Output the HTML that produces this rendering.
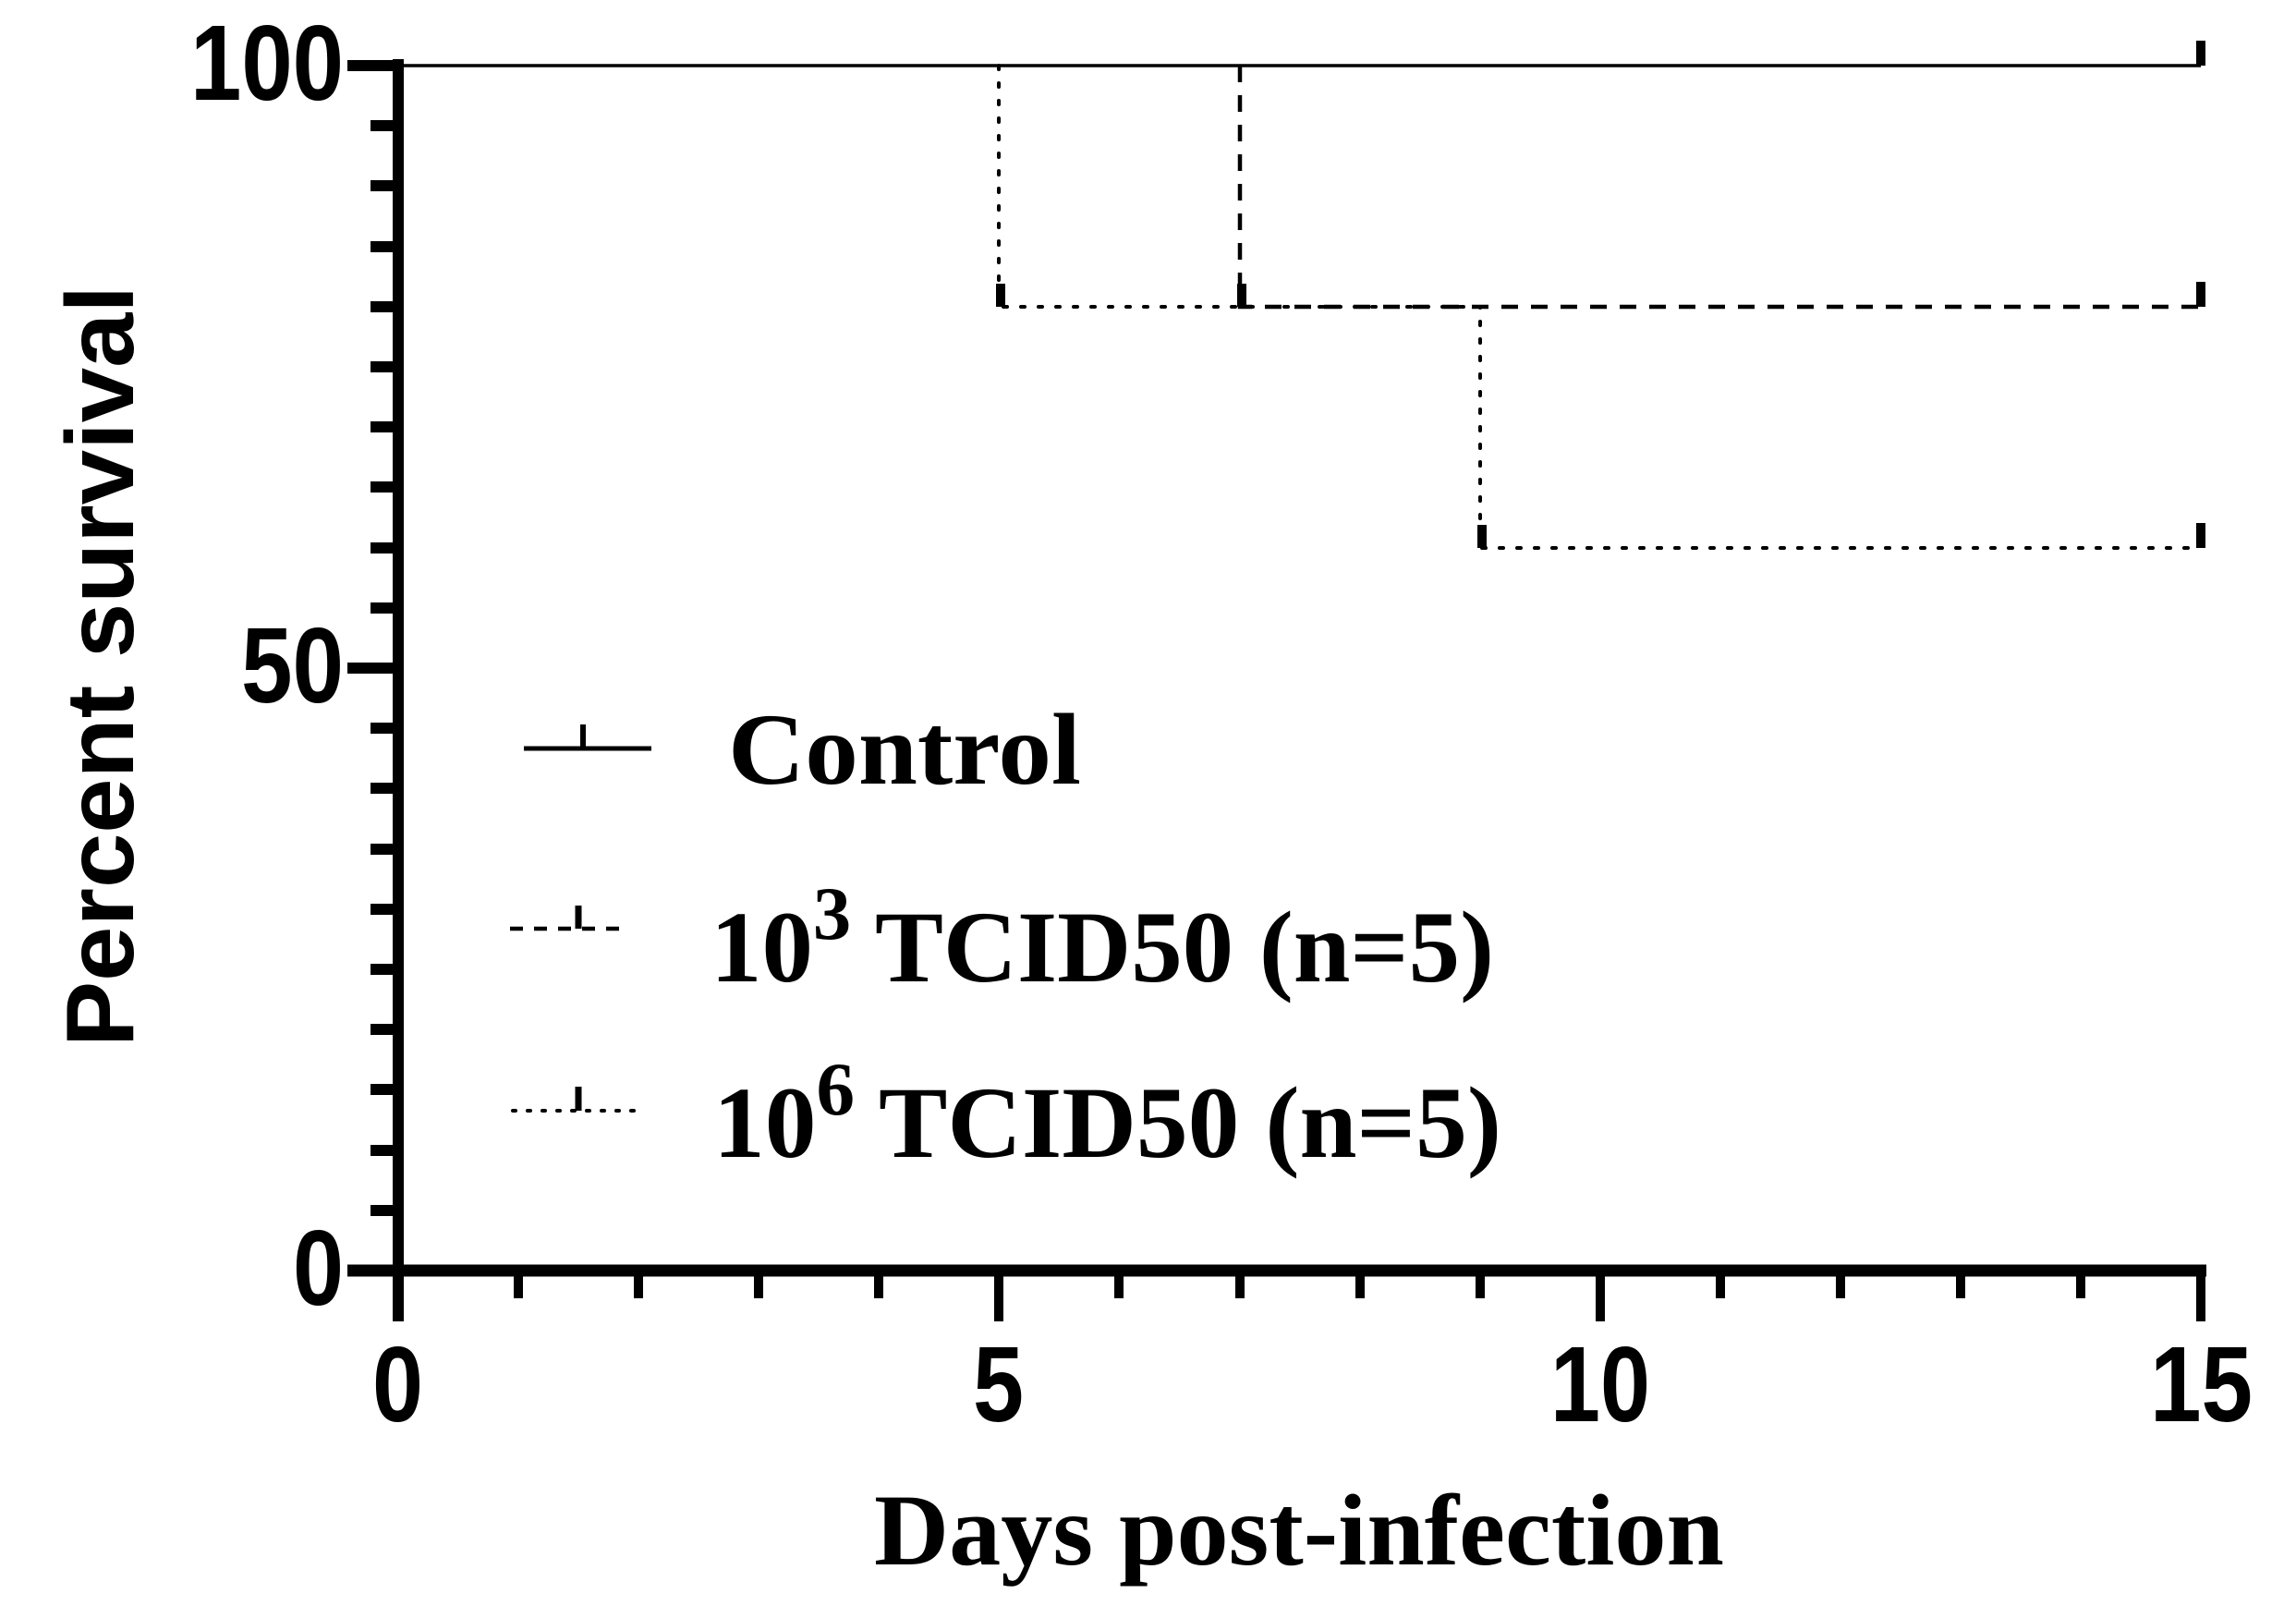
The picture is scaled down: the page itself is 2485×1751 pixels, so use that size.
<!DOCTYPE html>
<html><head><style>html,body{margin:0;padding:0;background:#fff}svg{display:block}</style></head>
<body>
<svg width="2485" height="1751" viewBox="0 0 2485 1751" xmlns="http://www.w3.org/2000/svg">
<g stroke="#000" fill="none">
<line x1="431" y1="64" x2="431" y2="1430" stroke-width="12"/>
<line x1="376" y1="1375" x2="2388" y2="1375" stroke-width="13"/>
<g stroke-width="12">
<line x1="376" y1="71" x2="431" y2="71"/>
<line x1="376" y1="723" x2="431" y2="723"/>
<line x1="376" y1="1375" x2="431" y2="1375"/>
</g>
<g stroke-width="12">
<line x1="401" y1="136" x2="431" y2="136"/><line x1="401" y1="201" x2="431" y2="201"/><line x1="401" y1="267" x2="431" y2="267"/>
<line x1="401" y1="332" x2="431" y2="332"/><line x1="401" y1="397" x2="431" y2="397"/><line x1="401" y1="462" x2="431" y2="462"/>
<line x1="401" y1="527" x2="431" y2="527"/><line x1="401" y1="593" x2="431" y2="593"/><line x1="401" y1="658" x2="431" y2="658"/>
<line x1="401" y1="788" x2="431" y2="788"/><line x1="401" y1="853" x2="431" y2="853"/><line x1="401" y1="919" x2="431" y2="919"/>
<line x1="401" y1="984" x2="431" y2="984"/><line x1="401" y1="1049" x2="431" y2="1049"/><line x1="401" y1="1114" x2="431" y2="1114"/>
<line x1="401" y1="1179" x2="431" y2="1179"/><line x1="401" y1="1245" x2="431" y2="1245"/><line x1="401" y1="1310" x2="431" y2="1310"/>
</g>
<g stroke-width="10">
<line x1="1081" y1="1375" x2="1081" y2="1430"/><line x1="1732" y1="1375" x2="1732" y2="1430"/><line x1="2382" y1="1375" x2="2382" y2="1430"/>
<line x1="561" y1="1375" x2="561" y2="1405"/><line x1="691" y1="1375" x2="691" y2="1405"/><line x1="821" y1="1375" x2="821" y2="1405"/><line x1="951" y1="1375" x2="951" y2="1405"/>
<line x1="1211" y1="1375" x2="1211" y2="1405"/><line x1="1342" y1="1375" x2="1342" y2="1405"/><line x1="1472" y1="1375" x2="1472" y2="1405"/><line x1="1602" y1="1375" x2="1602" y2="1405"/>
<line x1="1862" y1="1375" x2="1862" y2="1405"/><line x1="1992" y1="1375" x2="1992" y2="1405"/><line x1="2122" y1="1375" x2="2122" y2="1405"/><line x1="2252" y1="1375" x2="2252" y2="1405"/>
</g>
<polyline points="431,71 2382,71" stroke-width="3.5"/>
<polyline points="1081,71 1081,332 1602,332 1602,593 2382,593" stroke-width="4" stroke-dasharray="4 15" stroke-linecap="round"/>
<polyline points="1342,71 1342,332 2382,332" stroke-width="4.5" stroke-dasharray="18 14"/>
<g stroke-width="10">
<line x1="2382" y1="44" x2="2382" y2="71"/>
<line x1="2382" y1="305" x2="2382" y2="332"/>
<line x1="2382" y1="566" x2="2382" y2="593"/>
<line x1="1083" y1="307" x2="1083" y2="332"/>
<line x1="1344" y1="307" x2="1344" y2="332"/>
<line x1="1604" y1="568" x2="1604" y2="593"/>
</g>
<line x1="567" y1="810" x2="705" y2="810" stroke-width="5"/>
<line x1="631" y1="784" x2="631" y2="810" stroke-width="6"/>
<line x1="552" y1="1005" x2="677" y2="1005" stroke-width="4.5" stroke-dasharray="14 12"/>
<line x1="626" y1="980" x2="626" y2="1005" stroke-width="7"/>
<line x1="555" y1="1202" x2="693" y2="1202" stroke-width="4" stroke-dasharray="3 13" stroke-linecap="round"/>
<line x1="626" y1="1176" x2="626" y2="1202" stroke-width="7"/>
</g>
<g fill="#000" font-family="'Liberation Sans',Arial,sans-serif" font-weight="bold" font-size="116">
<text x="372" y="108" text-anchor="end" textLength="166" lengthAdjust="spacingAndGlyphs">100</text>
<text x="372" y="760" text-anchor="end" textLength="111" lengthAdjust="spacingAndGlyphs">50</text>
<text x="372" y="1412" text-anchor="end" textLength="55" lengthAdjust="spacingAndGlyphs">0</text>
<text x="403" y="1538" textLength="55" lengthAdjust="spacingAndGlyphs">0</text>
<text x="1053" y="1538" textLength="55" lengthAdjust="spacingAndGlyphs">5</text>
<text x="1678" y="1538" textLength="108" lengthAdjust="spacingAndGlyphs">10</text>
<text x="2327" y="1538" textLength="111" lengthAdjust="spacingAndGlyphs">15</text>
</g>
<g fill="#000" font-family="'Liberation Sans',Arial,sans-serif" font-weight="bold" font-size="104">
<text transform="translate(144,721) rotate(-90)" text-anchor="middle" textLength="824" lengthAdjust="spacingAndGlyphs">Percent survival</text>
</g>
<g fill="#000" font-family="'Liberation Serif','Times New Roman',serif" font-weight="bold" font-size="110">
<text x="946" y="1693" textLength="920" lengthAdjust="spacingAndGlyphs">Days post-infection</text>
<text x="788" y="848" textLength="382" lengthAdjust="spacingAndGlyphs">Control</text>
<text x="769" y="1062" textLength="848" lengthAdjust="spacingAndGlyphs">10<tspan font-size="82" dy="-46">3</tspan><tspan dy="46"> TCID50 (n=5)</tspan></text>
<text x="772" y="1252" textLength="853" lengthAdjust="spacingAndGlyphs">10<tspan font-size="82" dy="-46">6</tspan><tspan dy="46"> TCID50 (n=5)</tspan></text>
</g>
</svg>
</body></html>
